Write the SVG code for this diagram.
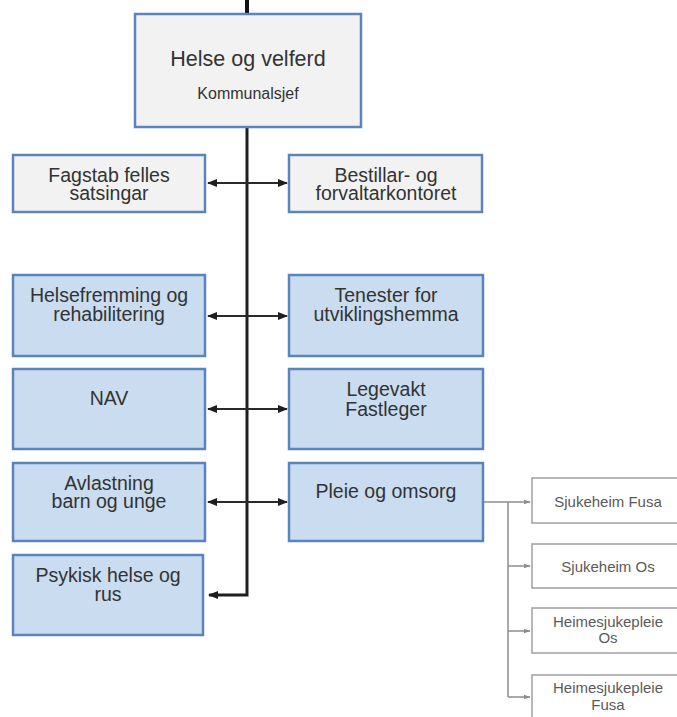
<svg xmlns="http://www.w3.org/2000/svg" width="677" height="717" viewBox="0 0 677 717">
<style>
.grey{fill:#f2f2f2;stroke:#5b84bd;stroke-width:2.5}
.blue{fill:#c9dcf0;stroke:#5b84bd;stroke-width:2.5}
.sub{fill:#ffffff;stroke:#a0a0a0;stroke-width:1.5}
.t{font-family:"Liberation Sans",Arial,sans-serif;font-size:19.5px;fill:#333;text-anchor:middle}
.ts{font-family:"Liberation Sans",Arial,sans-serif;font-size:15px;fill:#5a5a5a;text-anchor:middle}
.main{stroke:#1e1e1e;stroke-width:3;fill:none}
.h{stroke:#2a2a2a;stroke-width:2;fill:none}
.g{stroke:#8c8c8c;stroke-width:1.5;fill:none}
</style>
<defs>
<marker id="ab" markerUnits="userSpaceOnUse" markerWidth="10" markerHeight="10" viewBox="0 0 10 10" refX="9" refY="5" orient="auto-start-reverse">
<path d="M0,1 L10,5 L0,9 Z" fill="#1e1e1e"/>
</marker>
<marker id="ag" markerUnits="userSpaceOnUse" markerWidth="7" markerHeight="7" viewBox="0 0 10 10" refX="9" refY="5" orient="auto">
<path d="M0,1.5 L10,5 L0,8.5 Z" fill="#8c8c8c"/>
</marker>
</defs>
<rect width="677" height="717" fill="#ffffff"/>
<g id="connectors">
<line x1="247" y1="0" x2="247" y2="14" stroke="#111" stroke-width="4"/>
<path class="main" d="M247,127 V595 H209" marker-end="url(#ab)"/>
<line class="h" x1="208" y1="183" x2="287" y2="183" marker-start="url(#ab)" marker-end="url(#ab)"/>
<line class="h" x1="208" y1="316" x2="287" y2="316" marker-start="url(#ab)" marker-end="url(#ab)"/>
<line class="h" x1="208" y1="409" x2="287" y2="409" marker-start="url(#ab)" marker-end="url(#ab)"/>
<line class="h" x1="208" y1="502" x2="287" y2="502" marker-start="url(#ab)" marker-end="url(#ab)"/>
<path class="g" d="M484,502 H530" marker-end="url(#ag)"/>
<path class="g" d="M508,502 V697"/>
<path class="g" d="M508,566 H530" marker-end="url(#ag)"/>
<path class="g" d="M508,631 H530" marker-end="url(#ag)"/>
<path class="g" d="M508,697 H530" marker-end="url(#ag)"/>
</g>
<g id="helse-og-velferd">
<rect class="grey" x="135" y="14" width="226" height="113"/>
<text class="t" x="248" y="66" style="font-size:21.5px">Helse og velferd</text>
<text class="t" x="248" y="99" style="font-size:16px">Kommunalsjef</text>
</g>
<g id="fagstab">
<rect class="grey" x="13" y="155" width="192" height="57"/>
<text class="t" x="109" y="182">Fagstab felles</text>
<text class="t" x="109" y="200">satsingar</text>
</g>
<g id="bestillar">
<rect class="grey" x="289" y="155" width="193" height="57"/>
<text class="t" x="386" y="182">Bestillar- og</text>
<text class="t" x="386" y="200">forvaltarkontoret</text>
</g>
<g id="helsefremming">
<rect class="blue" x="13" y="275" width="192" height="81"/>
<text class="t" x="109" y="302">Helsefremming og</text>
<text class="t" x="109" y="321">rehabilitering</text>
</g>
<g id="tenester">
<rect class="blue" x="289" y="275" width="194" height="81"/>
<text class="t" x="386" y="302">Tenester for</text>
<text class="t" x="386" y="321">utviklingshemma</text>
</g>
<g id="nav">
<rect class="blue" x="13" y="369" width="192" height="80"/>
<text class="t" x="109" y="405">NAV</text>
</g>
<g id="legevakt">
<rect class="blue" x="289" y="369" width="194" height="80"/>
<text class="t" x="386" y="396">Legevakt</text>
<text class="t" x="386" y="416">Fastleger</text>
</g>
<g id="avlastning">
<rect class="blue" x="13" y="463" width="192" height="78"/>
<text class="t" x="109" y="490">Avlastning</text>
<text class="t" x="109" y="508">barn og unge</text>
</g>
<g id="pleie">
<rect class="blue" x="289" y="463" width="194" height="78"/>
<text class="t" x="386" y="498">Pleie og omsorg</text>
</g>
<g id="psykisk">
<rect class="blue" x="13" y="555" width="190" height="80"/>
<text class="t" x="108" y="582">Psykisk helse og</text>
<text class="t" x="108" y="601">rus</text>
</g>
<g id="sjukeheim-fusa">
<rect class="sub" x="532" y="478" width="160" height="45"/>
<text class="ts" x="608" y="507">Sjukeheim Fusa</text>
</g>
<g id="sjukeheim-os">
<rect class="sub" x="532" y="544" width="160" height="44"/>
<text class="ts" x="608" y="572">Sjukeheim Os</text>
</g>
<g id="heimesjukepleie-os">
<rect class="sub" x="532" y="608" width="160" height="45"/>
<text class="ts" x="608" y="627">Heimesjukepleie</text>
<text class="ts" x="608" y="643">Os</text>
</g>
<g id="heimesjukepleie-fusa">
<rect class="sub" x="532" y="675" width="160" height="50"/>
<text class="ts" x="608" y="693">Heimesjukepleie</text>
<text class="ts" x="608" y="710">Fusa</text>
</g>
</svg>
